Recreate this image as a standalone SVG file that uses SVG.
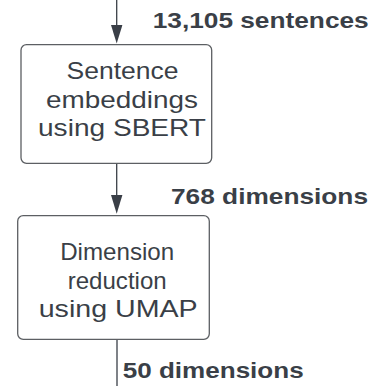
<svg xmlns="http://www.w3.org/2000/svg" width="376" height="386" viewBox="0 0 376 386">
<style>
.box{fill:#ffffff;stroke:#5c5f63;stroke-width:1.3}
.nt{font-family:"Liberation Sans",Arial,sans-serif;font-size:24.5px;fill:#3a3f47;text-anchor:middle}
.lb{font-family:"Liberation Sans",Arial,sans-serif;font-size:22.5px;font-weight:bold;fill:#3a3f47}
.edge{stroke:#3a3f47;stroke-width:1.3;fill:none}
.head{fill:#3a3f47}
</style>
<rect width="376" height="386" fill="#ffffff"/>
<g id="connectors">
<line class="edge" x1="116.7" y1="0" x2="116.7" y2="27"/>
<polygon class="head" points="111,25 122.4,25 116.7,43.5"/>
<line class="edge" x1="116.7" y1="163.3" x2="116.7" y2="197"/>
<polygon class="head" points="111,195 122.4,195 116.7,213.8"/>
<line class="edge" x1="117" y1="339.3" x2="117" y2="386"/>
</g>
<g id="label-sentences"><text class="lb" x="152.7" y="27.5" textLength="216" lengthAdjust="spacingAndGlyphs">13,105 sentences</text></g>
<g id="label-768"><text class="lb" x="171" y="204" textLength="197" lengthAdjust="spacingAndGlyphs">768 dimensions</text></g>
<g id="label-50"><text class="lb" x="122.7" y="377.7" textLength="181" lengthAdjust="spacingAndGlyphs">50 dimensions</text></g>
<g id="node-sbert">
<rect class="box" x="21" y="44.7" width="190.7" height="118.6" rx="5.5"/>
<text class="nt" x="122.5" y="79.3" textLength="112" lengthAdjust="spacingAndGlyphs">Sentence</text>
<text class="nt" x="122" y="107.8" textLength="152" lengthAdjust="spacingAndGlyphs">embeddings</text>
<text class="nt" x="122" y="136.2" textLength="168" lengthAdjust="spacingAndGlyphs">using SBERT</text>
</g>
<g id="node-umap">
<rect class="box" x="17.7" y="215.7" width="191.6" height="123.6" rx="5.5"/>
<text class="nt" x="117.2" y="260.4" textLength="114" lengthAdjust="spacingAndGlyphs">Dimension</text>
<text class="nt" x="117.2" y="289" textLength="99" lengthAdjust="spacingAndGlyphs">reduction</text>
<text class="nt" x="118.2" y="316.7" textLength="159" lengthAdjust="spacingAndGlyphs">using UMAP</text>
</g>
</svg>
